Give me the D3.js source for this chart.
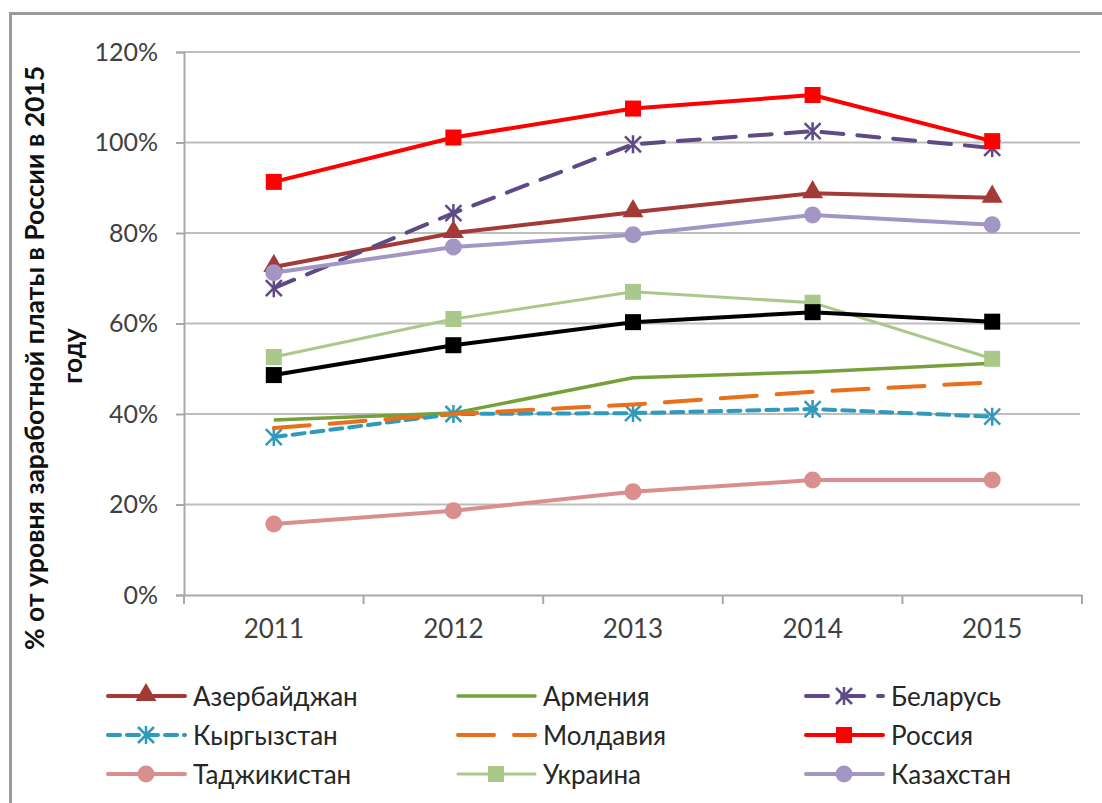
<!DOCTYPE html>
<html>
<head>
<meta charset="utf-8">
<script src="https://cdn.jsdelivr.net/npm/d3@7"></script>
<style>
  body { margin: 0; background: #fff; }
  text { font-family: Lato, "Open Sans", sans-serif; }
</style>
</head>
<body>
<div id="chart"></div>
<script>
// data (share of Russian wage level of 2015)
var years = ["2011", "2012", "2013", "2014", "2015"];
var yTicks = [0, 0.2, 0.4, 0.6, 0.8, 1.0, 1.2];

var azerbaijan = [0.725, 0.800, 0.846, 0.888, 0.878];
var armenia    = [0.387, 0.402, 0.480, 0.493, 0.512];
var belarus    = [0.678, 0.844, 0.996, 1.025, 0.988];
var kyrgyzstan = [0.349, 0.400, 0.402, 0.411, 0.394];
var moldova    = [0.369, 0.400, 0.421, 0.449, 0.470];
var russia     = [0.913, 1.011, 1.075, 1.105, 1.003];
var tajikistan = [0.157, 0.186, 0.228, 0.254, 0.254];
var ukraine    = [0.526, 0.610, 0.670, 0.646, 0.522];
var kazakhstan = [0.712, 0.769, 0.796, 0.840, 0.818];
var unnamed    = [0.486, 0.552, 0.603, 0.625, 0.604];

var seriesNames = ["Азербайджан", "Армения", "Беларусь", "Кыргызстан", "Молдавия",
                   "Россия", "Таджикистан", "Украина", "Казахстан", ""];
var seriesValues = [azerbaijan, armenia, belarus, kyrgyzstan, moldova,
                    russia, tajikistan, ukraine, kazakhstan, unnamed];

// look of each series
var styles = [
  {color: "#a33a38", width: 4, dash: null,    marker: "triangle"},
  {color: "#76a03a", width: 3.5, dash: null,  marker: null},
  {color: "#5e4a85", width: 4, dash: "22,14", marker: "star"},
  {color: "#2f9abb", width: 4, dash: "12,7",  marker: "star"},
  {color: "#e8701a", width: 4, dash: "36,20", marker: null},
  {color: "#ff0000", width: 4, dash: null,    marker: "square"},
  {color: "#d98f8d", width: 4, dash: null,    marker: "circle"},
  {color: "#a9c98a", width: 3, dash: null,    marker: "square"},
  {color: "#a396c4", width: 4, dash: null,    marker: "circle"},
  {color: "#000000", width: 4, dash: null,    marker: "square"}
];

var W = 1102, H = 803;
var svg = d3.select("#chart").append("svg")
  .attr("width", W).attr("height", H);

// frame
svg.append("path")
  .attr("d", "M10.5," + H + "V13.5H" + W)
  .attr("fill", "none")
  .attr("stroke", "#9a9a9a")
  .attr("stroke-width", 3);

var x = d3.scaleBand().domain(years).range([184, 1082]).padding(0);
var y = d3.scaleLinear().domain([0, 1.2]).range([595, 52]);

// gridlines
svg.append("g")
  .selectAll("line")
  .data(yTicks.slice(1))
  .join("line")
  .attr("x1", 184).attr("x2", 1080)
  .attr("y1", d => y(d)).attr("y2", d => y(d))
  .attr("stroke", "#bdbdbd")
  .attr("stroke-width", 2);

// y axis
var yAxis = svg.append("g")
  .attr("transform", "translate(184,0)")
  .call(d3.axisLeft(y).tickValues(yTicks).tickSize(8).tickPadding(18)
        .tickFormat(d => Math.round(d * 100) + "%"));
yAxis.select(".domain").attr("stroke", "#a8a8a8").attr("stroke-width", 2);
yAxis.selectAll(".tick line").attr("stroke", "#a8a8a8").attr("stroke-width", 2);
yAxis.selectAll(".tick text")
  .style("font-size", "25px").attr("fill", "#404040");

// x axis
var xAxis = svg.append("g")
  .attr("transform", "translate(0,595)")
  .call(d3.axisBottom(x).tickSize(0).tickPadding(25));
xAxis.select(".domain").attr("stroke", "#a8a8a8").attr("stroke-width", 2);
xAxis.selectAll(".tick text")
  .style("font-size", "26px").attr("fill", "#404040");
// tick marks at category borders
xAxis.append("g")
  .selectAll("line")
  .data(years.concat(["end"]))
  .join("line")
  .attr("x1", (d, i) => i < years.length ? x(d) : x.range()[1])
  .attr("x2", (d, i) => i < years.length ? x(d) : x.range()[1])
  .attr("y1", 0).attr("y2", 9)
  .attr("stroke", "#a8a8a8").attr("stroke-width", 2);

// y title
var title = svg.append("g")
  .attr("font-weight", "bold")
  .style("font-size", "26.5px")
  .attr("fill", "#111");
title.append("text")
  .attr("transform", "translate(44,358) rotate(-90)")
  .attr("text-anchor", "middle")
  .text("% от уровня заработной платы в России в 2015");
title.append("text")
  .attr("transform", "translate(82,356) rotate(-90)")
  .attr("text-anchor", "middle")
  .text("году");

function drawMarker(g, type, color, cx, cy) {
  if (type === "square") {
    g.append("rect").attr("x", cx - 8).attr("y", cy - 8)
      .attr("width", 16).attr("height", 16).attr("fill", color);
  } else if (type === "circle") {
    g.append("circle").attr("cx", cx).attr("cy", cy).attr("r", 8.5).attr("fill", color);
  } else if (type === "triangle") {
    g.append("path")
      .attr("d", d3.symbol().type(d3.symbolTriangle).size(190)())
      .attr("transform", "translate(" + cx + "," + (cy - 1) + ")")
      .attr("fill", color);
  } else if (type === "star") {
    var s = 8;
    g.append("path")
      .attr("d", "M" + (cx - s) + "," + (cy - s) + "L" + (cx + s) + "," + (cy + s) +
                 "M" + (cx - s) + "," + (cy + s) + "L" + (cx + s) + "," + (cy - s) +
                 "M" + cx + "," + (cy - s - 1) + "L" + cx + "," + (cy + s + 1))
      .attr("stroke", color).attr("stroke-width", 2.5).attr("fill", "none");
  }
}

var line = d3.line()
  .x((d, i) => x(years[i]) + x.bandwidth() / 2)
  .y(d => y(d));

var plot = svg.append("g");
seriesValues.forEach(function(vals, k) {
  var st = styles[k];
  var g = plot.append("g");
  g.append("path")
    .datum(vals)
    .attr("fill", "none")
    .attr("stroke", st.color)
    .attr("stroke-width", st.width)
    .attr("stroke-dasharray", st.dash)
    .attr("stroke-linejoin", "round")
    .attr("stroke-linecap", st.dash ? "round" : "butt")
    .attr("d", line);
  if (st.marker) {
    vals.forEach(function(v, i) {
      drawMarker(g, st.marker, st.color, x(years[i]) + x.bandwidth() / 2, y(v));
    });
  }
});

// legend, three columns
var legendX = [108, 458, 806];
var legendY = [696, 735, 774];
var legend = svg.append("g");
seriesNames.forEach(function(name, k) {
  if (!name) return;
  var st = styles[k];
  var lx = legendX[k % 3], ly = legendY[Math.floor(k / 3)];
  var g = legend.append("g");
  g.append("line")
    .attr("x1", lx).attr("x2", lx + 77)
    .attr("y1", ly).attr("y2", ly)
    .attr("stroke", st.color)
    .attr("stroke-width", st.width)
    .attr("stroke-dasharray", st.dash)
    .attr("stroke-linecap", "round");
  if (st.marker) drawMarker(g, st.marker, st.color, lx + 38, ly);
  g.append("text")
    .attr("x", lx + 85)
    .attr("y", ly + 9.5)
    .style("font-size", "26px")
    .attr("fill", "#262626")
    .text(name);
});
</script>
</body>
</html>
